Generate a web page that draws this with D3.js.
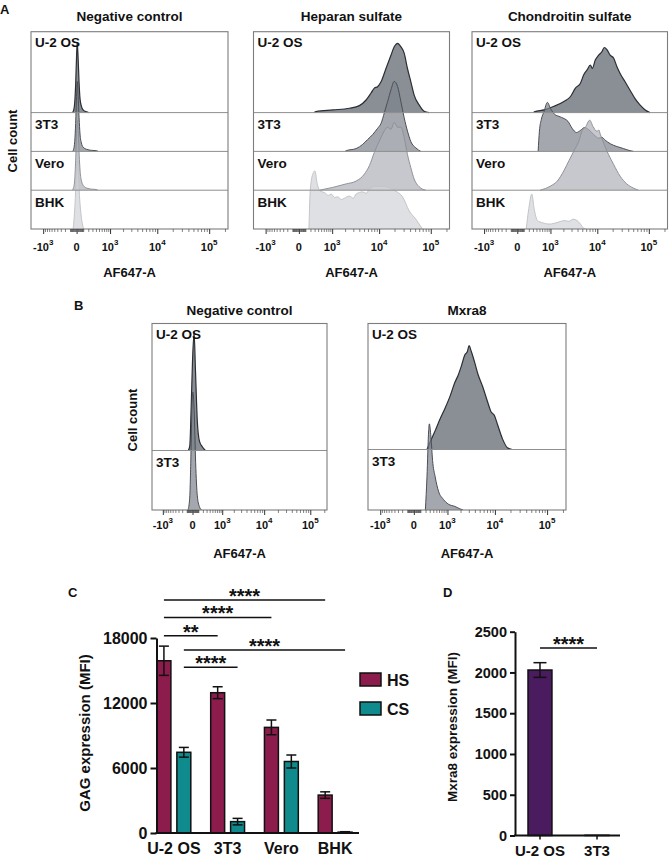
<!DOCTYPE html>
<html>
<head>
<meta charset="utf-8">
<script src="https://cdn.jsdelivr.net/npm/d3@7"></script>
<style>
body { margin: 0; background: #fff; }
text { font-family: "Liberation Sans", Arial, sans-serif; font-weight: bold; fill: #111; }
</style>
</head>
<body>
<div id="fig"></div>
<script>
// ---- flow cytometry axis (AF647-A, biexponential-like) ----
var afConstant = 300;
var afDomain = [-1917, 228600];
var afMajorTicks = [-1000, 0, 1000, 10000, 100000];
var afMajorBase = ["-10", "0", "10", "10", "10"];
var afMajorExp = ["3", "", "3", "4", "5"];

var cellLines = ["U-2 OS", "3T3", "Vero", "BHK"];

// histograms: [AF647 value, count (% of mode)]
// A - negative control
var negU2OS = [[-60,0],[-40,4],[-26,14],[-13,40],[0,83],[8,100],[20,79],[34,43],[48,20],[70,9],[98,4],[165,1],[205,0]];
var neg3T3 = [[-60,0],[-40,4],[-26,14],[-13,40],[0,83],[8,100],[20,80],[34,48],[48,25],[70,12],[100,6],[165,3],[280,1.5],[420,1],[470,0]];
var negVero = [[-65,0],[-42,4],[-27,14],[-13,42],[0,85],[10,100],[22,82],[36,50],[50,27],[72,13],[100,7],[165,3],[280,1.5],[420,1],[460,0]];
var negBHK = [[-50,0],[-35,15],[-15,50],[0,90],[10,100],[25,75],[45,40],[65,20],[85,8],[110,0]];

// A - heparan sulfate
var hsU2OS = [[290,0],[340,1.5],[1039,3.8],[2484,6.2],[4017,10],[5494,18],[6914,28],[8040,35],[9340,37],[10900,44],[13630,63],[17050,82],[19750,94],[22860,99],[26590,94],[30770,85],[35610,63],[41380,44],[47890,25],[59700,11],[74400,2],[92700,0]];
var hs3T3 = [[2000,0],[2110,1],[3434,4],[4689,10],[5915,17],[7440,24],[9340,33],[10900,40],[12640,55],[14650,71],[17050,88],[19750,100],[22860,93],[26590,71],[30770,48],[35610,29],[41380,14],[51600,5],[64350,0]];
var hsVero = [[447,0],[1039,4],[2110,9],[3434,13],[5080,23],[6400,35],[8040,54],[10070,70],[11700,80],[14650,90],[17050,87],[19750,97],[22860,90],[26590,90],[30770,75],[35610,51],[41380,32],[47890,16],[59700,5],[80100,0]];
var hsBHK = [[167,0],[197,57],[257,79],[308,83],[375,64],[470,54],[631,52],[800,48],[948,50],[1150,45],[1367,46],[1650,42],[1937,44],[2484,47],[3000,44],[3434,50],[4689,53],[5500,51],[6400,57],[8680,61],[11700,61],[15790,59],[21300,54],[28550,46],[38400,26],[51600,14],[69100,0]];

// A - chondroitin sulfate
var csU2OS = [[320,0],[340,1],[680,4],[1220,9],[2057,16],[2850,23],[3620,35],[4590,42],[5360,54],[6250,61],[7270,68],[7960,63],[9120,75],[10640,82],[12340,87],[13690,93],[15450,90],[17900,82],[20820,78],[24100,66],[27920,56],[34840,44],[43450,32],[54200,20],[67500,11],[84100,4],[104900,0]];
var cs3T3 = [[454,0],[498,29],[571,46],[680,57],[833,70],[1010,61],[1261,53],[1593,50],[2057,47],[2510,43],[3090,33],[3800,27],[4590,30],[5520,34],[6760,31],[8500,24],[10640,19],[12340,20],[14320,16],[17900,11],[24100,7],[32460,4],[43450,1],[50500,0]];
var csVero = [[523,0],[1010,6],[1458,13],[2057,28],[2636,42],[3355,56],[4250,70],[4960,85],[5780,90],[7070,100],[8220,91],[9860,84],[10700,86],[11430,80],[12900,70],[15450,56],[20820,37],[27920,20],[37560,9],[50500,3],[62940,0]];
var csBHK = [[145,0],[199,29],[269,50],[332,29],[431,12],[610,9],[921,7],[1220,8],[1593,10],[2057,12],[2636,11],[3240,14],[3920,12],[4590,7],[5360,1],[5890,0]];

// B - negative control and Mxra8
var bNegU2OS = [[-70,0],[-43,4],[-22,34],[0,76],[24,100],[47,68],[80,25],[122,8],[190,3],[267,0]];
var bNeg3T3 = [[-75,0],[-45,10],[-25,45],[-8,90],[5,100],[25,85],[50,40],[80,12],[120,3],[170,0]];
var mxU2OS = [[232,0],[314,6.5],[461,16],[645,26],[870,35],[1151,45],[1500,57],[1775,63],[2094,71],[2465,80],[2800,83],[3030,88],[3378,83],[3946,74],[4600,64],[5775,53],[7230,40],[8390,32],[9730,29],[11280,21],[14040,9],[17480,1.5],[21750,0]];
var mx3T3 = [[196,0],[232,28],[272,67],[289,73],[332,62],[379,42],[461,28],[578,16],[789,9],[1050,5],[1500,3],[1932,1],[2273,0]];

// C - GAG expression (MFI)
var gagCells = ["U-2 OS", "3T3", "Vero", "BHK"];
var gagSeries = ["HS", "CS"];
var hsMean = [15900, 12950, 9750, 3500];
var hsErr = [1350, 550, 680, 300];
var csMean = [7450, 1050, 6600, 80];
var csErr = [450, 300, 600, 40];
var gagTicks = [0, 6000, 12000, 18000];
var gagSigFrom = [[0, "HS"], [0, "HS"], [0, "HS"], [0, "CS"], [0, "CS"]];
var gagSigTo = [[3, "HS"], [2, "HS"], [1, "HS"], [3, "CS"], [1, "CS"]];
var gagSigLevel = [21500, 19900, 18200, 16900, 15300];
var gagSigLabel = ["****", "****", "**", "****", "****"];

// D - Mxra8 expression (MFI)
var mxCells = ["U-2 OS", "3T3"];
var mxMean = [2030, 3];
var mxErr = [90, 0];
var mxTicks = [0, 500, 1000, 1500, 2000, 2500];
var mxSigLevel = 2300;

// colours
var histFill = ["#595f69", "#7e838b", "#aeb0b8", "#d1d3d7"];
var histStroke = ["#2b2e33", "#4a4e55", "#8e9298", "#c2c4c8"];
var hsColor = "#8b1c4c";
var csColor = "#0f8b8d";
var mxColor = "#4a1b5e";

var svg = d3.select("#fig").append("svg").attr("width", 670).attr("height", 860);

// minor ticks of the AF647 axis
var afMinorTicks = [];
[10, 100].forEach(function(m){
    d3.range(1, 10).forEach(function(k){ afMinorTicks.push(k * m); afMinorTicks.push(-k * m); });
});
[1000, 10000, 100000].forEach(function(m){
    d3.range(2, 10).forEach(function(k){ if (k * m < afDomain[1]) afMinorTicks.push(k * m); });
});

var flowPanels = [
    {id: "aneg", title: "Negative control", x0: 31, x1: 228, top: 31.7, baselines: [112.6, 151.4, 190.2, 229], peak: 70,
     curves: [negU2OS, neg3T3, negVero, negBHK], labels: cellLines, titleY: 21, tickY: 250.5, axisTitleY: 276.7},
    {id: "ahs", title: "Heparan sulfate", x0: 253.5, x1: 449.5, top: 31.7, baselines: [112.6, 151.4, 190.2, 229], peak: 70,
     curves: [hsU2OS, hs3T3, hsVero, hsBHK], labels: cellLines, titleY: 21, tickY: 250.5, axisTitleY: 276.7},
    {id: "acs", title: "Chondroitin sulfate", x0: 472, x1: 667.5, top: 31.7, baselines: [112.6, 151.4, 190.2, 229], peak: 70,
     curves: [csU2OS, cs3T3, csVero, csBHK], labels: cellLines, titleY: 21, tickY: 250.5, axisTitleY: 276.7},
    {id: "bneg", title: "Negative control", x0: 152, x1: 327, top: 323.5, baselines: [450.5, 510], peak: 118,
     curves: [bNegU2OS, bNeg3T3], labels: ["U-2 OS", "3T3"], titleY: 315, tickY: 528.5, axisTitleY: 558},
    {id: "bmx", title: "Mxra8", x0: 368, x1: 566, top: 323.5, baselines: [449.5, 510], peak: 118,
     curves: [mxU2OS, mx3T3], labels: ["U-2 OS", "3T3"], titleY: 315, tickY: 528.5, axisTitleY: 558}
];

function drawFlowPanel(p){
    var g = svg.append("g");
    var x = d3.scaleSymlog().constant(afConstant).domain(afDomain).range([p.x0, p.x1]);
    var h = d3.scaleLinear().domain([0, 100]).range([0, p.peak]);
    var bottom = p.baselines[p.baselines.length - 1];

    svg.append("clipPath").attr("id", "clip-" + p.id)
        .append("rect").attr("x", p.x0).attr("y", p.top)
        .attr("width", p.x1 - p.x0).attr("height", bottom - p.top);

    var plot = g.append("g").attr("clip-path", "url(#clip-" + p.id + ")");

    p.curves.forEach(function(c, i){
        var base = p.baselines[i];
        var area = d3.area().x(d => x(d[0])).y0(base).y1(d => base - h(d[1])).curve(d3.curveMonotoneX);
        var line = d3.line().x(d => x(d[0])).y(d => base - h(d[1])).curve(d3.curveMonotoneX);
        plot.append("path").datum(c).attr("d", area)
            .attr("fill", histFill[i]).attr("fill-opacity", 0.7);
        plot.append("path").datum(c).attr("d", line)
            .attr("fill", "none").attr("stroke", histStroke[i]).attr("stroke-width", i === 0 ? 1.2 : 1);
    });

    //row separators
    p.baselines.slice(0, -1).forEach(function(b){
        g.append("line").attr("x1", p.x0).attr("x2", p.x1).attr("y1", b).attr("y2", b)
            .attr("stroke", "#8f8f8f").attr("stroke-width", 1);
    });

    //frame
    g.append("rect").attr("x", p.x0).attr("y", p.top)
        .attr("width", p.x1 - p.x0).attr("height", bottom - p.top)
        .attr("fill", "none").attr("stroke", "#7d7d7d").attr("stroke-width", 1.1);

    //row labels
    p.labels.forEach(function(lab, i){
        var rowTop = i === 0 ? p.top : p.baselines[i - 1];
        g.append("text").attr("x", p.x0 + 4).attr("y", rowTop + (i === 0 ? 15 : 16.5))
            .attr("font-size", 13.5).text(lab);
    });

    //title
    g.append("text").attr("x", (p.x0 + p.x1) / 2).attr("y", p.titleY)
        .attr("text-anchor", "middle").attr("font-size", 13.5).text(p.title);

    //axis ticks
    var minorAxis = g.append("g").attr("transform", `translate(0, ${bottom})`)
        .call(d3.axisBottom(x).tickValues(afMinorTicks).tickSize(3).tickFormat(""));
    minorAxis.select(".domain").remove();
    minorAxis.selectAll("line").attr("stroke", "#333").attr("stroke-width", 0.6);

    var majorAxis = g.append("g").attr("transform", `translate(0, ${bottom})`)
        .call(d3.axisBottom(x).tickValues(afMajorTicks).tickSize(5).tickFormat(""));
    majorAxis.select(".domain").remove();
    majorAxis.selectAll("line").attr("stroke", "#333").attr("stroke-width", 1);

    afMajorTicks.forEach(function(v, i){
        var t = g.append("text").attr("x", x(v)).attr("y", p.tickY)
            .attr("text-anchor", "middle").attr("font-size", 11);
        t.append("tspan").text(afMajorBase[i]);
        if (afMajorExp[i]) {
            t.append("tspan").attr("dy", -5.5).attr("font-size", 8).text(afMajorExp[i]);
        }
    });

    g.append("text").attr("x", (p.x0 + p.x1) / 2).attr("y", p.axisTitleY)
        .attr("text-anchor", "middle").attr("font-size", 13).text("AF647-A");
}

flowPanels.forEach(drawFlowPanel);

//y titles and panel letters
svg.append("text").attr("transform", "translate(17,141) rotate(-90)")
    .attr("text-anchor", "middle").attr("font-size", 13).text("Cell count");
svg.append("text").attr("transform", "translate(137,420) rotate(-90)")
    .attr("text-anchor", "middle").attr("font-size", 13).text("Cell count");
svg.append("text").attr("x", 0).attr("y", 13.5).attr("font-size", 13).text("A");
svg.append("text").attr("x", 74).attr("y", 309.5).attr("font-size", 13).text("B");
svg.append("text").attr("x", 68).attr("y", 597).attr("font-size", 13).text("C");
svg.append("text").attr("x", 443).attr("y", 597).attr("font-size", 13).text("D");

// ---- panel C ----
var yC = d3.scaleLinear().domain([0, 18000]).range([833, 638]);
var xC = d3.scaleBand().domain(gagCells).range([147, 362]).paddingInner(0.37).paddingOuter(0.185);
var xCs = d3.scaleBand().domain(gagSeries).range([0, xC.bandwidth()]).paddingInner(0.3);
var gagMean = {HS: hsMean, CS: csMean};
var gagErr = {HS: hsErr, CS: csErr};
var gagColor = {HS: hsColor, CS: csColor};

var chartC = svg.append("g");

gagCells.forEach(function(cell, ci){
    gagSeries.forEach(function(s){
        var bx = xC(cell) + xCs(s);
        var v = gagMean[s][ci];
        chartC.append("rect").attr("x", bx).attr("y", yC(v))
            .attr("width", xCs.bandwidth()).attr("height", yC(0) - yC(v))
            .attr("fill", gagColor[s]).attr("stroke", "#111").attr("stroke-width", 1.5);
        var cx = bx + xCs.bandwidth() / 2;
        var e = gagErr[s][ci];
        chartC.append("line").attr("x1", cx).attr("x2", cx).attr("y1", yC(v - e)).attr("y2", yC(v + e))
            .attr("stroke", "#111").attr("stroke-width", 1.5);
        [v - e, v + e].forEach(function(cv){
            chartC.append("line").attr("x1", cx - 5).attr("x2", cx + 5).attr("y1", yC(cv)).attr("y2", yC(cv))
                .attr("stroke", "#111").attr("stroke-width", 1.5);
        });
    });
});

var yAxisC = chartC.append("g").attr("transform", "translate(156.5,0)")
    .call(d3.axisLeft(yC).tickValues(gagTicks).tickSize(6).tickPadding(3).tickSizeOuter(0).tickFormat(d3.format("d")));
yAxisC.selectAll("path, line").attr("stroke", "#111").attr("stroke-width", 2);
yAxisC.selectAll("text").attr("font-size", 16).attr("font-family", null).attr("fill", "#111");

chartC.append("line").attr("x1", 155.5).attr("x2", 359).attr("y1", 833).attr("y2", 833)
    .attr("stroke", "#111").attr("stroke-width", 2);
var xAxisC = chartC.append("g").attr("transform", "translate(0,833)")
    .call(d3.axisBottom(xC).tickSize(0).tickPadding(9.6));
xAxisC.select(".domain").remove();
xAxisC.selectAll("text").attr("font-size", 16).attr("font-family", null).attr("fill", "#111");

chartC.append("text").attr("transform", "translate(90,733) rotate(-90)")
    .attr("text-anchor", "middle").attr("font-size", 15).text("GAG expression (MFI)");

//significance brackets
function barCenter(ref){
    return xC(gagCells[ref[0]]) + xCs(ref[1]) + xCs.bandwidth() / 2;
}
gagSigLevel.forEach(function(level, i){
    var x1 = barCenter(gagSigFrom[i]);
    var x2 = barCenter(gagSigTo[i]);
    chartC.append("line").attr("x1", x1).attr("x2", x2).attr("y1", yC(level)).attr("y2", yC(level))
        .attr("stroke", "#111").attr("stroke-width", 1.5);
    chartC.append("text").attr("x", (x1 + x2) / 2).attr("y", yC(level) + 3)
        .attr("text-anchor", "middle").attr("font-size", 20).text(gagSigLabel[i]);
});

//legend
gagSeries.forEach(function(s, i){
    var ly = 673 + i * 29;
    chartC.append("rect").attr("x", 360).attr("y", ly).attr("width", 21).attr("height", 13)
        .attr("fill", gagColor[s]).attr("stroke", "#111").attr("stroke-width", 1.5);
    chartC.append("text").attr("x", 387).attr("y", ly + 12.7).attr("font-size", 16).text(s);
});

// ---- panel D ----
var yD = d3.scaleLinear().domain([0, 2500]).range([835.5, 631.7]);
var xD = d3.scaleBand().domain(mxCells).range([515, 622]).paddingInner(0.58).paddingOuter(0.228);
var chartD = svg.append("g");

mxCells.forEach(function(cell, i){
    var v = mxMean[i];
    chartD.append("rect").attr("x", xD(cell)).attr("y", yD(v))
        .attr("width", xD.bandwidth()).attr("height", yD(0) - yD(v))
        .attr("fill", mxColor).attr("stroke", "#111").attr("stroke-width", 1.5);
    if (mxErr[i] > 0) {
        var cx = xD(cell) + xD.bandwidth() / 2;
        chartD.append("line").attr("x1", cx).attr("x2", cx).attr("y1", yD(v - mxErr[i])).attr("y2", yD(v + mxErr[i]))
            .attr("stroke", "#111").attr("stroke-width", 1.5);
        [v - mxErr[i], v + mxErr[i]].forEach(function(cv){
            chartD.append("line").attr("x1", cx - 6.5).attr("x2", cx + 6.5).attr("y1", yD(cv)).attr("y2", yD(cv))
                .attr("stroke", "#111").attr("stroke-width", 1.5);
        });
    }
});

var yAxisD = chartD.append("g").attr("transform", "translate(515,0)")
    .call(d3.axisLeft(yD).tickValues(mxTicks).tickSize(5).tickPadding(3).tickSizeOuter(0).tickFormat(d3.format("d")));
yAxisD.selectAll("path, line").attr("stroke", "#111").attr("stroke-width", 2);
yAxisD.selectAll("text").attr("font-size", 14.5).attr("font-family", null).attr("fill", "#111");

chartD.append("line").attr("x1", 514).attr("x2", 620).attr("y1", 835.5).attr("y2", 835.5)
    .attr("stroke", "#111").attr("stroke-width", 2);
var xAxisD = chartD.append("g").attr("transform", "translate(0,835.5)")
    .call(d3.axisBottom(xD).tickSize(4).tickPadding(6));
xAxisD.select(".domain").remove();
xAxisD.selectAll("line").attr("stroke", "#111").attr("stroke-width", 1.5);
xAxisD.selectAll("text").attr("font-size", 15).attr("font-family", null).attr("fill", "#111");

chartD.append("text").attr("transform", "translate(457,727) rotate(-90)")
    .attr("text-anchor", "middle").attr("font-size", 13.5).text("Mxra8 expression (MFI)");

var dx1 = xD(mxCells[0]) + xD.bandwidth() / 2;
var dx2 = xD(mxCells[1]) + xD.bandwidth() / 2;
chartD.append("line").attr("x1", dx1).attr("x2", dx2).attr("y1", yD(mxSigLevel)).attr("y2", yD(mxSigLevel))
    .attr("stroke", "#111").attr("stroke-width", 1.5);
chartD.append("text").attr("x", (dx1 + dx2) / 2).attr("y", yD(mxSigLevel) + 3)
    .attr("text-anchor", "middle").attr("font-size", 20).text("****");
</script>
</body>
</html>
